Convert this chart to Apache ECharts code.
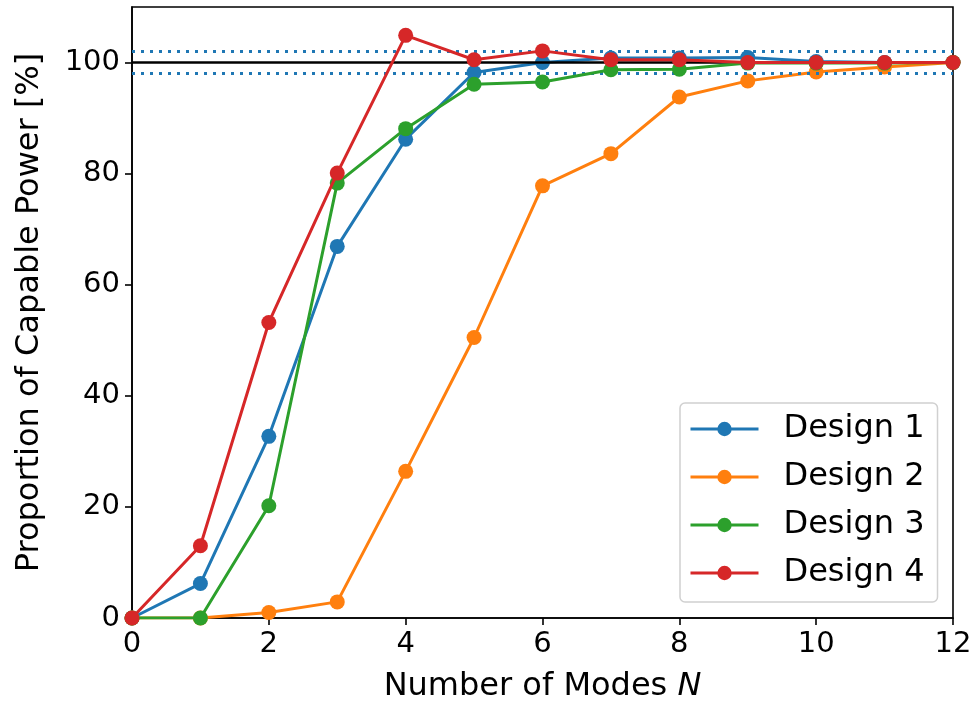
<!DOCTYPE html>
<html>
<head>
<meta charset="utf-8">
<title>Proportion of Capable Power vs Number of Modes</title>
<script src="https://cdn.jsdelivr.net/npm/echarts@6/dist/echarts.min.js"></script>
<style>
  html, body { margin: 0; padding: 0; background: #fff; }
  #chart { width: 973px; height: 704px; }
</style>
</head>
<body>
<div id="chart"></div>
<script>
// Number of modes on the x axis
const modes = [0, 1, 2, 3, 4, 5, 6, 7, 8, 9, 10, 11, 12];

// Proportion of capable power [%] for each design
const design1 = [0, 6.2, 32.7, 66.9, 86.2, 98.2, 100.0, 100.8, 100.8, 100.9, 100.2, 100.0, 100.0];
const design2 = [0, 0, 1.0, 2.9, 26.4, 50.5, 77.8, 83.6, 93.8, 96.7, 98.3, 99.2, 100.0];
const design3 = [0, 0, 20.2, 78.3, 88.1, 96.1, 96.5, 98.7, 98.8, 99.9, 99.9, 99.9, 100.0];
const design4 = [0, 13.0, 53.2, 80.1, 104.9, 100.5, 102.1, 100.5, 100.5, 100.0, 100.0, 100.0, 100.0];

const seriesNames = ['Design 1', 'Design 2', 'Design 3', 'Design 4'];
const seriesColors = ['#1f77b4', '#ff7f0e', '#2ca02c', '#d62728'];

// Reference level and tolerance band
const referenceLevel = [100];
const toleranceBand = [98, 102];

// Tick labels
const xTicks = [0, 2, 4, 6, 8, 10, 12];
const yTicks = [0, 20, 40, 60, 80, 100];

const FONT = 'DejaVu Sans';
const TICK_FS = 29;
const TITLE_FS = 32;

const allValues = [design1, design2, design3, design4];

const designSeries = allValues.map((vals, i) => ({
  name: seriesNames[i],
  type: 'line',
  z: 3 + i,
  data: modes.map((m, j) => [m, vals[j]]),
  symbol: 'circle',
  symbolSize: 15,
  showSymbol: true,
  animation: false,
  itemStyle: { color: seriesColors[i] },
  lineStyle: { color: seriesColors[i], width: 3 },
  emphasis: { disabled: true }
}));

// Holder series for the horizontal reference lines, drawn beneath the data
const refSeries = {
  name: 'reference',
  type: 'line',
  data: [],
  z: 1,
  silent: true,
  animation: false,
  markLine: {
    silent: true,
    symbol: 'none',
    animation: false,
    label: { show: false },
    data: [
      ...referenceLevel.map(v => ({
        yAxis: v,
        lineStyle: { color: '#000', width: 2.6, type: 'solid' }
      })),
      ...toleranceBand.map(v => ({
        yAxis: v,
        lineStyle: { color: '#1f77b4', width: 3, type: [3, 6], cap: 'butt' }
      }))
    ]
  }
};

const chart = echarts.init(document.getElementById('chart'), null, { renderer: 'canvas' });

chart.setOption({
  animation: false,
  backgroundColor: '#fff',
  textStyle: { fontFamily: FONT },
  grid: {
    left: 132, top: 7, width: 821, height: 611,
    outerBoundsMode: 'none',
    show: true,
    borderColor: '#000',
    borderWidth: 1.6,
    backgroundColor: 'transparent',
    containLabel: false
  },
  legend: {
    orient: 'vertical',
    left: 680,
    top: 403,
    data: seriesNames,
    itemWidth: 68,
    itemHeight: 18,
    itemGap: 14,
    padding: [9, 13, 12, 9],
    backgroundColor: '#fff',
    borderColor: '#d0d0d0',
    borderWidth: 1.5,
    borderRadius: 5,
    lineStyle: { width: 3 },
    textStyle: {
      fontFamily: FONT,
      fontSize: TITLE_FS,
      color: '#000',
      lineHeight: 34,
      padding: [0, 0, 0, 20]
    }
  },
  xAxis: {
    type: 'value',
    min: 0,
    max: 12,
    interval: 2,
    name: '{n|Number of Modes }{i|N}',
    nameLocation: 'middle',
    nameGap: 53,
    nameTextStyle: {
      rich: {
        n: { fontFamily: FONT, fontSize: TITLE_FS, color: '#000' },
        i: { fontFamily: FONT, fontSize: TITLE_FS, fontStyle: 'italic', color: '#000' }
      }
    },
    axisLine: { show: true, lineStyle: { color: '#000', width: 1.6 } },
    axisTick: { show: true, inside: false, length: 7, lineStyle: { color: '#000', width: 1.6 }, customValues: xTicks },
    axisLabel: { show: true, margin: 12, fontFamily: FONT, fontSize: TICK_FS, color: '#000', customValues: xTicks },
    splitLine: { show: false }
  },
  yAxis: {
    type: 'value',
    min: 0,
    max: 110,
    interval: 20,
    name: 'Proportion of Capable Power [%]',
    nameLocation: 'middle',
    nameGap: 86,
    nameTextStyle: { fontFamily: FONT, fontSize: TITLE_FS, color: '#000' },
    axisLine: { show: true, lineStyle: { color: '#000', width: 1.6 } },
    axisTick: { show: true, inside: false, length: 7, lineStyle: { color: '#000', width: 1.6 }, customValues: yTicks },
    axisLabel: { show: true, margin: 12, fontFamily: FONT, fontSize: TICK_FS, color: '#000', customValues: yTicks },
    splitLine: { show: false }
  },
  series: [refSeries, ...designSeries]
});
</script>
</body>
</html>
